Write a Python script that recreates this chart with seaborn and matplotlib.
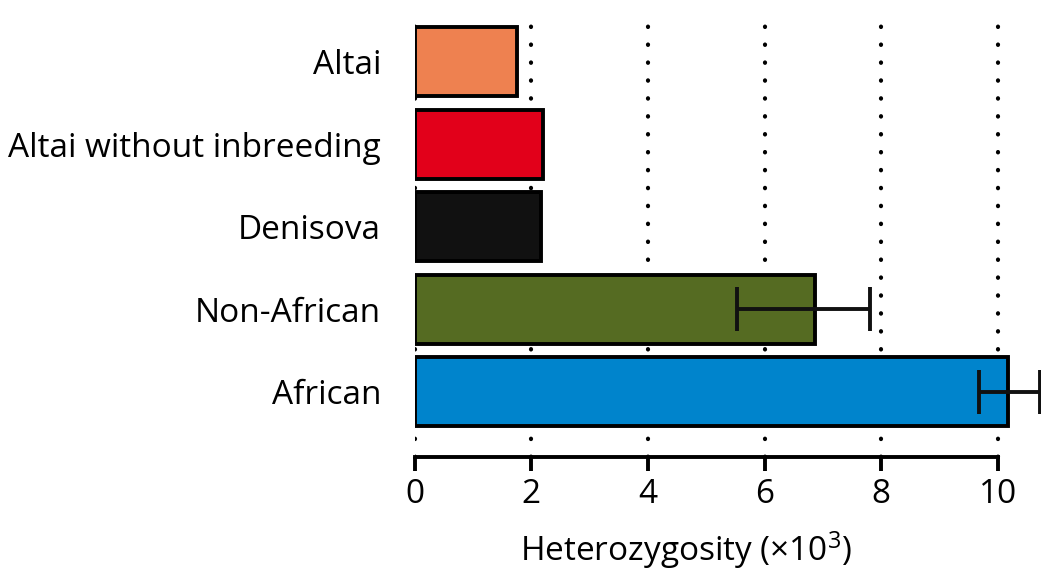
import matplotlib
matplotlib.use("Agg")
import matplotlib.pyplot as plt
import seaborn as sns
import pandas as pd

categories = ["Altai", "Altai without inbreeding", "Denisova", "Non-African", "African"]
values = [1.76, 2.2, 2.17, 6.87, 10.17]
err_low = [None, None, None, 5.53, 9.68]
err_high = [None, None, None, 7.81, 10.72]
colors = ["#EE8150", "#E2001A", "#111111", "#556B22", "#0084CC"]
xticks = [0, 2, 4, 6, 8, 10]

sns.set_style("white")
plt.rcParams["font.family"] = ["Open Sans", "DejaVu Sans"]
plt.rcParams["mathtext.fontset"] = "custom"
plt.rcParams["mathtext.rm"] = "Open Sans"
plt.rcParams["mathtext.it"] = "Open Sans"
plt.rcParams["text.color"] = "black"
plt.rcParams["xtick.color"] = "black"
plt.rcParams["ytick.color"] = "black"
plt.rcParams["axes.labelcolor"] = "black"

df = pd.DataFrame({"cat": categories, "val": values})

fig = plt.figure(figsize=(10.41, 5.84), dpi=100)
ax = fig.add_axes([414.5 / 1041, 1 - 457 / 584, (10.7 * 58.35) / 1041, (457 - 14) / 584])

sns.barplot(data=df, x="val", y="cat", hue="cat", palette=colors, legend=False,
            orient="h", width=0.84, saturation=1, edgecolor="black", linewidth=2.8,
            ax=ax, zorder=3)

for i, (lo, hi) in enumerate(zip(err_low, err_high)):
    if lo is None:
        continue
    v = values[i]
    ax.errorbar([v], [i], xerr=[[v - lo], [hi - v]], fmt="none", ecolor="#111111",
                elinewidth=2.8, capsize=16, capthick=2.8, zorder=4, clip_on=False)

for xt in xticks:
    ax.axvline(xt, color="black", linestyle=(0, (0.1, 4.2)), linewidth=3.0,
               dash_capstyle="round", zorder=1)

ax.set_xlim(0, 10.7)
ax.set_ylim(4.79, -0.58)
ax.set_xticks(xticks)
ax.set_xticklabels([str(t) for t in xticks], fontsize=24)
ax.tick_params(axis="x", bottom=True, direction="out", length=10, width=2.8,
               color="black", pad=5)
ax.tick_params(axis="y", left=False, length=0, labelsize=24, pad=24)

for s in ["top", "right", "left"]:
    ax.spines[s].set_visible(False)
ax.spines["bottom"].set_bounds(0, 10)
ax.spines["bottom"].set_linewidth(2.8)
ax.spines["bottom"].set_color("black")

ax.set_ylabel("")
ax.set_xlabel("Heterozygosity (×10$^{3}$)", fontsize=24)
ax.xaxis.set_label_coords((686 - 414.5) / (10.7 * 58.35), -(550 - 457) / 443)
ax.xaxis.label.set_verticalalignment("center")
ax.grid(False)

fig.savefig("out.png", dpi=100)
